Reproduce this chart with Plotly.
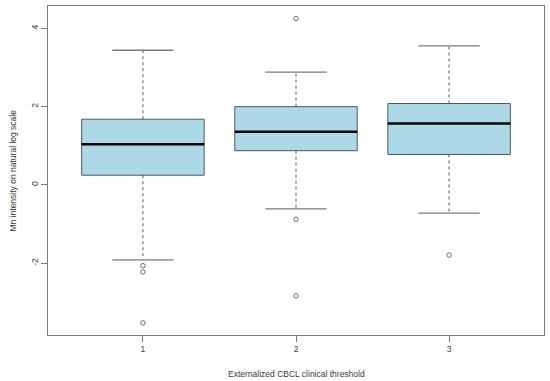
import plotly.graph_objects as go

# ---- data ----
groups = [1, 2, 3]
q1 = [0.25, 0.875, 0.78]
median = [1.04, 1.36, 1.57]
q3 = [1.68, 2.00, 2.08]
lower_whisker = [-1.91, -0.61, -0.72]
upper_whisker = [3.44, 2.88, 3.55]
outliers = {
    1: [-2.06, -2.22, -3.52],
    2: [4.25, -0.875, -2.83],
    3: [-1.79],
}
tick_vals_y = [-2, 0, 2, 4]
x_title = "Externalized CBCL clinical threshold"
y_title = "Mn intensity on natural log scale"

BOX_W = 0.8
CAP_W = 0.4
FONT = "Liberation Sans, Arial, sans-serif"
TXT = "#3a3a3a"
AXC = "#7a7a7a"
FS = 8.5

fig = go.Figure()

# whiskers (dashed) and caps
for i, g in enumerate(groups):
    fig.add_trace(go.Scatter(
        x=[g, g, None, g, g], y=[q3[i], upper_whisker[i], None, q1[i], lower_whisker[i]],
        mode="lines", line=dict(color="#444444", width=0.9, dash="3px,3px"),
        hoverinfo="skip", showlegend=False))
    fig.add_trace(go.Scatter(
        x=[g - CAP_W / 2, g + CAP_W / 2, None, g - CAP_W / 2, g + CAP_W / 2],
        y=[upper_whisker[i], upper_whisker[i], None, lower_whisker[i], lower_whisker[i]],
        mode="lines", line=dict(color="#7a7a7a", width=1.3),
        hoverinfo="skip", showlegend=False))

# boxes
fig.add_trace(go.Box(
    x=groups, q1=q1, median=median, q3=q3,
    lowerfence=q1, upperfence=q3,
    width=BOX_W, whiskerwidth=0,
    fillcolor="#ADD8E6", line=dict(color="#4d5a60", width=1),
    boxpoints=False, hoverinfo="skip", showlegend=False))

# medians (thick black)
mx, my = [], []
for i, g in enumerate(groups):
    mx += [g - BOX_W / 2, g + BOX_W / 2, None]
    my += [median[i], median[i], None]
fig.add_trace(go.Scatter(x=mx, y=my, mode="lines",
                         line=dict(color="#000000", width=2.5),
                         hoverinfo="skip", showlegend=False))

# outliers
ox, oy = [], []
for g in groups:
    for v in outliers[g]:
        ox.append(g)
        oy.append(v)
fig.add_trace(go.Scatter(x=ox, y=oy, mode="markers",
                         marker=dict(symbol="circle-open", size=4.5,
                                     color="#6a6a6a", line=dict(width=1)),
                         hoverinfo="skip", showlegend=False))

fig.update_layout(
    width=550, height=381,
    margin=dict(l=48, r=6, t=6, b=46, autoexpand=False),
    paper_bgcolor="white", plot_bgcolor="white",
    font=dict(family=FONT, size=FS, color=TXT),
    showlegend=False,
    xaxis=dict(
        range=[0.38, 3.62], tickvals=groups, ticktext=[str(g) for g in groups],
        showgrid=False, zeroline=False, showline=True, mirror=True,
        linecolor=AXC, linewidth=1, ticks="outside", ticklen=6, tickcolor=AXC,
        tickfont=dict(size=FS, color=TXT), automargin=False,
    ),
    yaxis=dict(
        range=[-3.83, 4.57], tickvals=tick_vals_y, ticktext=[str(v) for v in tick_vals_y],
        tickangle=-90,
        showgrid=False, zeroline=False, showline=True, mirror=True,
        linecolor=AXC, linewidth=1, ticks="outside", ticklen=6, tickcolor=AXC,
        tickfont=dict(size=FS, color=TXT), automargin=False,
    ),
    annotations=[
        dict(text=x_title, xref="paper", yref="paper", x=0.5, y=0,
             yshift=-39, yanchor="middle", xanchor="center", showarrow=False,
             font=dict(size=FS, color=TXT)),
        dict(text=y_title, xref="paper", yref="paper", x=0, y=0.5,
             xshift=-36, xanchor="center", yanchor="middle", textangle=-90,
             showarrow=False, font=dict(size=FS, color=TXT)),
    ],
)

fig.write_html("out.html", config={"displayModeBar": False},
               post_script="document.body.style.margin='0';")
